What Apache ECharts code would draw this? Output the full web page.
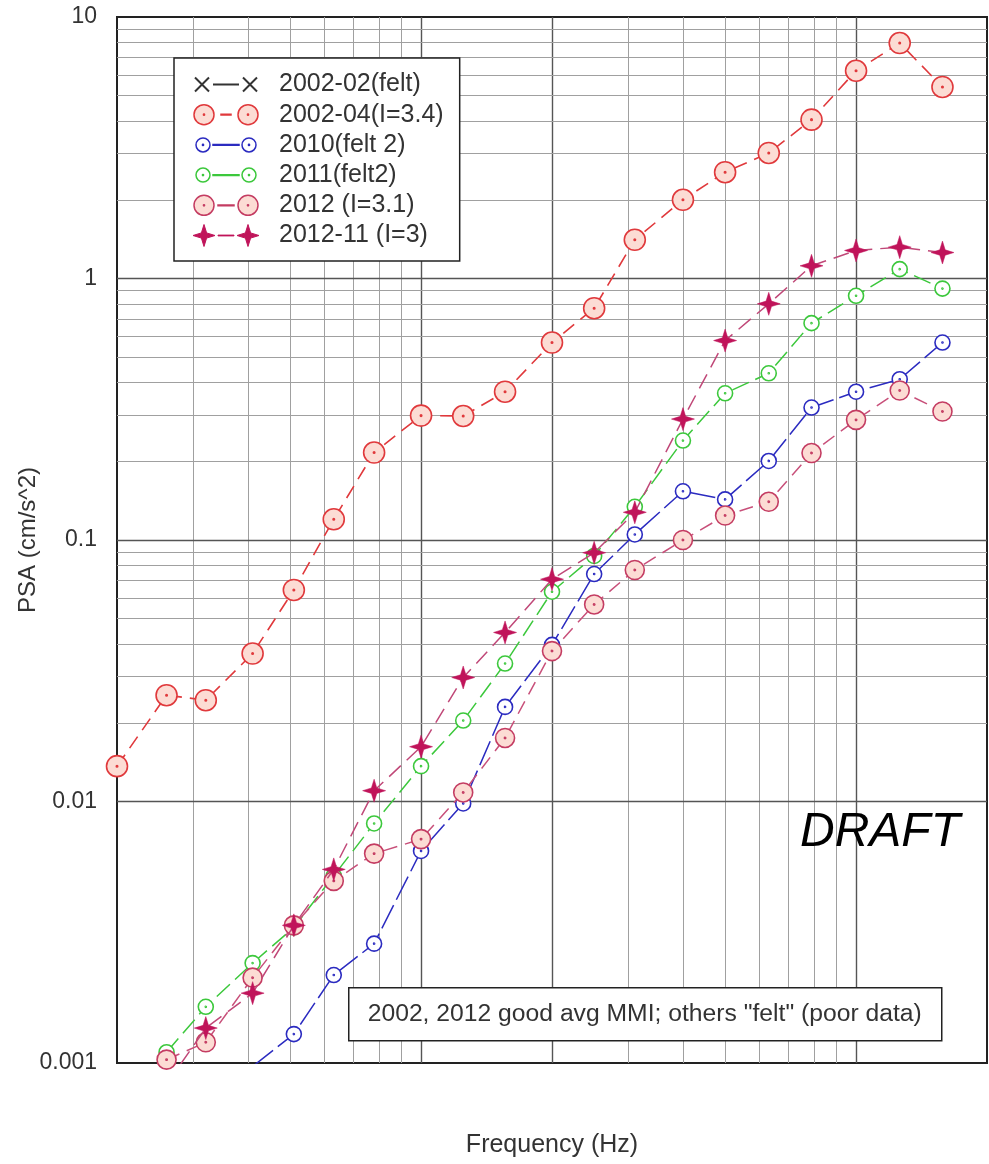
<!DOCTYPE html>
<html>
<head>
<meta charset="utf-8">
<title>PSA vs Frequency</title>
<script src="https://cdn.jsdelivr.net/npm/echarts@6/dist/echarts.min.js"></script>
<style>
  html, body { margin: 0; padding: 0; background: #fff; }
  #chart { width: 989px; height: 1164px; }
</style>
</head>
<body>
<div id="chart"></div>
<script>
// frequencies (Hz) shared by all events
var freq = [0.2, 0.26, 0.32, 0.41, 0.51, 0.63, 0.78, 1.0, 1.25, 1.56, 2.0, 2.5, 3.1, 4.0, 5.0, 6.3, 7.9, 10, 12.6, 15.8];

// PSA values (cm/s^2), null = not plotted
var psa200202 = [];
var psa200204 = [0.01365, 0.0255, 0.0244, 0.0368, 0.0644, 0.120, 0.216, 0.299, 0.298, 0.369, 0.569, 0.770, 1.406, 2.0, 2.55, 3.02, 4.05, 6.23, 7.95, 5.40];
var psa2010 = [null, null, null, 0.00097, 0.00129, 0.00217, 0.00286, 0.00647, 0.00983, 0.0230, 0.0397, 0.0741, 0.105, 0.1536, 0.143, 0.2006, 0.321, 0.369, 0.412, 0.569];
var psa2011 = [null, 0.0011, 0.00164, 0.00241, 0.0033, 0.0052, 0.00824, 0.01365, 0.0204, 0.0337, 0.0634, 0.0869, 0.134, 0.240, 0.364, 0.434, 0.675, 0.859, 1.086, 0.915];
var psa2012 = [null, 0.00103, 0.0012, 0.00212, 0.00336, 0.00497, 0.00632, 0.00718, 0.01083, 0.0175, 0.0376, 0.0567, 0.0768, 0.1, 0.124, 0.140, 0.215, 0.288, 0.373, 0.310];
var psa201211 = [null, 0.00083, 0.00136, 0.00185, 0.00336, 0.0055, 0.011, 0.0162, 0.0298, 0.0443, 0.0708, 0.0894, 0.1276, 0.290, 0.579, 0.80, 1.118, 1.28, 1.318, 1.257];

var seriesNames = ['2002-02(felt)', '2002-04(I=3.4)', '2010(felt 2)', '2011(felt2)', '2012 (I=3.1)', '2012-11 (I=3)'];

// grid lines
var xDecades = [0.1, 1, 10];
var yDecades = [0.001, 0.01, 0.1, 1];
var xMajor = [1, 2, 10];
var yMajor = [0.01, 0.1, 1];

var FONT = "'Liberation Sans', Arial, sans-serif";

function pairs(vals) {
  var out = [];
  for (var i = 0; i < vals.length; i++) {
    if (vals[i] !== null && vals[i] !== undefined) out.push([freq[i], vals[i]]);
  }
  return out;
}

function ring(cx, cy, r) {
  return 'M' + (cx - r) + ',' + cy + 'A' + r + ',' + r + ' 0 1 1 ' + (cx + r) + ',' + cy +
    'A' + r + ',' + r + ' 0 1 1 ' + (cx - r) + ',' + cy + 'Z';
}
function bar(x1, x2) {
  return 'M' + x1 + ',10.6L' + x2 + ',10.6L' + x2 + ',11.4L' + x1 + ',11.4Z';
}
function star(cx, cy) {
  return 'M' + cx + ',' + (cy - 11) + 'L' + (cx + 2.6) + ',' + (cy - 2.6) + 'L' + (cx + 11) + ',' + cy +
    'L' + (cx + 2.6) + ',' + (cy + 2.6) + 'L' + cx + ',' + (cy + 11) + 'L' + (cx - 2.6) + ',' + (cy + 2.6) +
    'L' + (cx - 11) + ',' + cy + 'L' + (cx - 2.6) + ',' + (cy - 2.6) + 'Z';
}
function cross(cx, cy) {
  return 'M' + (cx - 7) + ',' + (cy - 7) + 'L' + (cx + 7) + ',' + (cy + 7) +
    'M' + (cx + 7) + ',' + (cy - 7) + 'L' + (cx - 7) + ',' + (cy + 7);
}
var BOX = 'M0,0M66,22';

// marker symbols: circle with centre dot
var dotCircle = 'path://' + ring(11, 11, 10) + ring(11, 11, 0.7);
var starSym = 'path://' + star(11, 11);

var gridLines = [];
xDecades.forEach(function (d) {
  for (var m = 1; m <= 9; m++) {
    var v = +(d * m).toPrecision(3);
    if (v <= 0.2 || v >= 20) continue;
    var major = xMajor.indexOf(v) >= 0;
    gridLines.push({xAxis: v, lineStyle: {type: 'solid', color: major ? '#555' : '#a0a0a0', width: major ? 1.4 : 1}});
  }
});
yDecades.forEach(function (d) {
  for (var m = 1; m <= 9; m++) {
    var v = +(d * m).toPrecision(3);
    if (v <= 0.001 || v >= 10) continue;
    var major = yMajor.indexOf(v) >= 0;
    gridLines.push({yAxis: v, lineStyle: {type: 'solid', color: major ? '#555' : '#a0a0a0', width: major ? 1.4 : 1}});
  }
});

var chartDom = document.getElementById('chart');
var myChart = echarts.init(chartDom, null, {renderer: 'canvas'});
var option;

option = {
  animation: false,
  backgroundColor: '#fff',
  grid: {
    left: 117,
    top: 17,
    width: 870,
    height: 1046,
    containLabel: false,
    outerBoundsMode: 'none',
    show: true,
    borderColor: '#222',
    borderWidth: 2,
    backgroundColor: '#fff'
  },
  legend: {
    orient: 'vertical',
    left: 174,
    top: 58,
    padding: [14, 16, 13, 18],
    itemGap: 5.2,
    itemWidth: 66,
    itemHeight: 24,
    backgroundColor: '#fff',
    borderColor: '#222',
    borderWidth: 1.5,
    borderRadius: 0,
    textStyle: {fontSize: 25, lineHeight: 24, color: '#333', fontFamily: FONT, padding: [0, 0, 0, 15]},
    data: [
      {name: seriesNames[0], icon: 'path://' + BOX + cross(9, 11) + 'M20,11L46,11' + cross(57, 11),
        itemStyle: {color: 'rgba(0,0,0,0)', borderColor: '#333', borderWidth: 2}},
      {name: seriesNames[1], icon: 'path://' + BOX + ring(11, 11, 10) + ring(11, 11, 0.6) + bar(28, 38) + ring(55, 11, 10) + ring(55, 11, 0.6),
        itemStyle: {color: '#fcdcd4', borderColor: '#e0393c', borderWidth: 1.5}},
      {name: seriesNames[2], icon: 'path://' + BOX + ring(10, 11, 7) + ring(10, 11, 0.6) + bar(20, 46) + ring(56, 11, 7) + ring(56, 11, 0.6),
        itemStyle: {color: '#fff', borderColor: '#2b2bc0', borderWidth: 1.5}},
      {name: seriesNames[3], icon: 'path://' + BOX + ring(10, 11, 7) + ring(10, 11, 0.6) + bar(20, 46) + ring(56, 11, 7) + ring(56, 11, 0.6),
        itemStyle: {color: '#fff', borderColor: '#3cc83c', borderWidth: 1.5}},
      {name: seriesNames[4], icon: 'path://' + BOX + ring(11, 11, 10) + ring(11, 11, 0.6) + bar(25, 41) + ring(55, 11, 10) + ring(55, 11, 0.6),
        itemStyle: {color: '#fcdcd4', borderColor: '#c43c62', borderWidth: 1.5}},
      {name: seriesNames[5], icon: 'path://' + BOX + star(11, 11) + bar(25, 41) + star(55, 11),
        itemStyle: {color: '#c0145a', borderColor: '#c0145a', borderWidth: 1}}
    ]
  },
  xAxis: {
    type: 'log',
    logBase: 10,
    min: 0.2,
    max: 20,
    name: 'Frequency (Hz)',
    nameLocation: 'middle',
    nameGap: 70,
    nameMoveOverlap: false,
    nameTextStyle: {fontSize: 25, color: '#333', fontFamily: FONT},
    axisLine: {show: false},
    axisTick: {show: false},
    axisLabel: {show: false},
    splitLine: {show: false}
  },
  yAxis: {
    type: 'log',
    logBase: 10,
    min: 0.001,
    max: 10,
    name: 'PSA (cm/s^2)',
    nameLocation: 'middle',
    nameRotate: 90,
    nameGap: 77,
    nameMoveOverlap: false,
    nameTextStyle: {fontSize: 24, color: '#333', fontFamily: FONT},
    axisLine: {show: false},
    axisTick: {show: false},
    splitLine: {show: false},
    axisLabel: {
      fontSize: 23,
      color: '#333',
      fontFamily: FONT,
      margin: 20,
      formatter: function (v) { return String(+Number(v).toPrecision(3)); }
    }
  },
  graphic: [
    {
      type: 'text',
      z: 20,
      left: 800,
      top: 809,
      style: {text: 'DRAFT', fontSize: 48, fontStyle: 'italic', fontFamily: FONT, fill: '#000'}
    },
    {
      type: 'group',
      z: 20,
      left: 348,
      top: 987,
      children: [
        {type: 'rect', z: 20, shape: {x: 0, y: 0, width: 593, height: 53},
          style: {fill: '#fff', stroke: '#222', lineWidth: 1.5}},
        {type: 'text', z: 21, x: 296, y: 26.5,
          style: {text: '2002, 2012 good avg MMI; others "felt" (poor data)', fontSize: 24.7, fontFamily: FONT,
            fill: '#333', align: 'center', verticalAlign: 'middle'}}
      ]
    }
  ],
  series: [
    {
      name: 'grid',
      type: 'line',
      data: [],
      silent: true,
      markLine: {
        silent: true,
        symbol: 'none',
        z: 1,
        animation: false,
        label: {show: false},
        lineStyle: {type: 'solid'},
        data: gridLines
      }
    },
    {
      name: seriesNames[0],
      type: 'line',
      z: 3,
      data: pairs(psa200202),
      symbol: 'path://' + cross(9, 11),
      symbolSize: 14,
      itemStyle: {color: '#333', borderColor: '#333', borderWidth: 2},
      lineStyle: {color: '#333', width: 1.5}
    },
    {
      name: seriesNames[1],
      type: 'line',
      z: 3,
      clip: true,
      data: pairs(psa200204),
      symbol: dotCircle,
      symbolSize: 21,
      itemStyle: {color: '#fcdcd4', borderColor: '#e0393c', borderWidth: 1.6},
      lineStyle: {color: '#e0393c', width: 1.6, type: [14, 8]}
    },
    {
      name: seriesNames[2],
      type: 'line',
      z: 4,
      clip: true,
      data: pairs(psa2010),
      symbol: dotCircle,
      symbolSize: 15,
      itemStyle: {color: '#fff', borderColor: '#2b2bc0', borderWidth: 1.6},
      lineStyle: {color: '#2b2bc0', width: 1.5, type: [26, 6]}
    },
    {
      name: seriesNames[3],
      type: 'line',
      z: 4,
      clip: true,
      data: pairs(psa2011),
      symbol: dotCircle,
      symbolSize: 15,
      itemStyle: {color: '#fff', borderColor: '#3cc83c', borderWidth: 1.6},
      lineStyle: {color: '#3cc83c', width: 1.5, type: [18, 7]}
    },
    {
      name: seriesNames[4],
      type: 'line',
      z: 5,
      clip: true,
      data: pairs(psa2012),
      symbol: dotCircle,
      symbolSize: 19,
      itemStyle: {color: '#fcdcd4', borderColor: '#c43c62', borderWidth: 1.6},
      lineStyle: {color: '#c8507a', width: 1.5, type: [14, 8]}
    },
    {
      name: seriesNames[5],
      type: 'line',
      z: 6,
      clip: true,
      data: pairs(psa201211),
      symbol: starSym,
      symbolSize: 23,
      itemStyle: {color: '#c0145a', borderColor: '#c0145a', borderWidth: 0.5},
      lineStyle: {color: '#c04878', width: 1.5, type: [16, 8]}
    }
  ]
};

option && myChart.setOption(option);
</script>
</body>
</html>
